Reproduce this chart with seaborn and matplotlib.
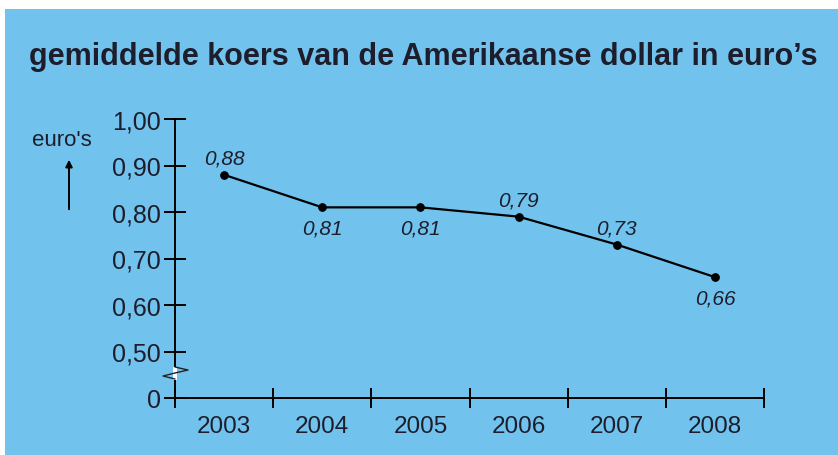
import numpy as np
import pandas as pd
import matplotlib
matplotlib.use("Agg")
import matplotlib.pyplot as plt
from matplotlib.patches import Rectangle, FancyArrowPatch
import seaborn as sns

# gemiddelde koers dollar in euro's
jaren = ["2003", "2004", "2005", "2006", "2007", "2008"]
koers = [0.88, 0.81, 0.81, 0.79, 0.73, 0.66]
label_boven = [True, False, False, True, True, False]
y_ticks = [0.40, 0.50, 0.60, 0.70, 0.80, 0.90, 1.00]
y_labels = ["0", "0,50", "0,60", "0,70", "0,80", "0,90", "1,00"]

df = pd.DataFrame({"pos": np.arange(len(jaren)), "jaar": jaren, "koers": koers})

sns.set_style("ticks")
plt.rcParams["font.family"] = ["Liberation Sans", "DejaVu Sans"]

W, H = 838, 456
blauw = "#71C3EE"
tekst = "#1d1d2b"

fig = plt.figure(figsize=(W / 100, H / 100), dpi=100, facecolor="white")
fig.patches.append(Rectangle((5 / W, 0), 1, (H - 10) / H, transform=fig.transFigure,
                             facecolor=blauw, edgecolor="none", zorder=-10))

L, R, T, B = 175, 764, 120, 399
ax = fig.add_axes([L / W, (H - B) / H, (R - L) / W, (B - T) / H])
ax.set_facecolor("none")

sns.lineplot(data=df, x="pos", y="koers", ax=ax, color="black", linewidth=1.6,
             marker="o", markersize=5.5, markeredgecolor="black")

for i, (v, boven) in enumerate(zip(koers, label_boven)):
    off = 17 if boven else -21
    ax.annotate(f"{v:.2f}".replace(".", ","), (i, v), xytext=(0, off),
                textcoords="offset pixels",
                ha="center", va="center", fontsize=15, style="italic", color=tekst)

ax.set_xlim(-0.5, len(jaren) - 0.5)
ax.set_ylim(0.40, 1.00)
ax.set_xticks(df["pos"])
ax.set_xticklabels(jaren)
ax.set_xticks(np.arange(-0.5, len(jaren)), minor=True)
ax.set_yticks(y_ticks)
ax.set_yticklabels(y_labels)
ax.tick_params(axis="x", which="major", length=0, pad=12, labelsize=17.5, labelcolor=tekst)
ax.tick_params(axis="x", which="minor", direction="inout", length=15, width=1.4, color="black")
ax.tick_params(axis="y", direction="inout", length=16, width=1.4, pad=2, labelsize=18,
               labelcolor=tekst, color="black")
ax.set_xlabel("")
ax.set_ylabel("")
for s in ["top", "right"]:
    ax.spines[s].set_visible(False)
for s in ["left", "bottom"]:
    ax.spines[s].set_linewidth(1.4)
    ax.spines[s].set_color("black")


def px(x, y):
    return (x - L) / (R - L), (B - y) / (B - T)


# onderbreking van de y-as
ax.add_patch(Rectangle(px(173, 381), 4 / (R - L), 13 / (B - T), transform=ax.transAxes,
                       facecolor="white", edgecolor="none", clip_on=False, zorder=5))
zig = [px(175, 368), px(188, 371), px(175, 374), px(163, 377), px(175, 380)]
ax.plot([p[0] for p in zig], [p[1] for p in zig], transform=ax.transAxes,
        color="#222222", linewidth=1, clip_on=False, zorder=6)

fig.text(29 / W, 1 - 57 / H, "gemiddelde koers van de Amerikaanse dollar in euro\u2019s",
         ha="left", va="center", fontsize=22, fontweight="bold", color=tekst)
fig.text(62 / W, 1 - 140 / H, "euro's", ha="center", va="center", fontsize=16, color=tekst)
fig.add_artist(FancyArrowPatch((69 / W, 1 - 213 / H), (69 / W, 1 - 158 / H),
                               transform=fig.transFigure, arrowstyle="-|>",
                               mutation_scale=10, color="black", linewidth=1.4))

fig.savefig("out.png", dpi=100, facecolor="white")
